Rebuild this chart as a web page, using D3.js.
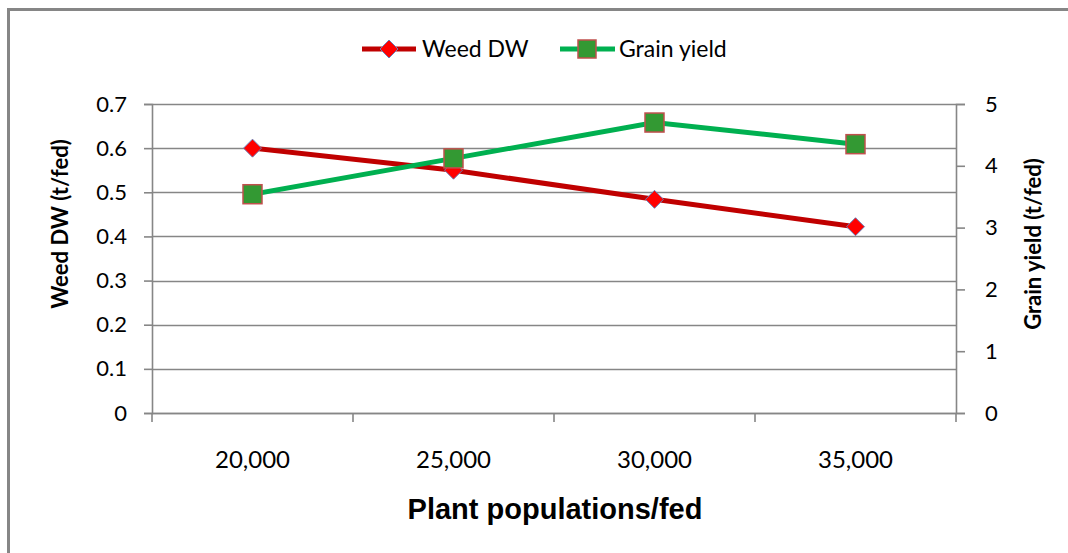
<!DOCTYPE html>
<html>
<head>
<meta charset="utf-8">
<script src="https://cdn.jsdelivr.net/npm/d3@7"></script>
<style>
  html, body { margin: 0; padding: 0; background: #fff; }
  svg { display: block; }
</style>
</head>
<body>
<svg id="chart" width="1068" height="553"></svg>
<script>
// ---- data ----
const categories = ["20,000", "25,000", "30,000", "35,000"];
const weedDW = [0.60, 0.55, 0.484, 0.422];
const grainYield = [3.54, 4.12, 4.70, 4.35];
const leftTicks = [0, 0.1, 0.2, 0.3, 0.4, 0.5, 0.6, 0.7];
const rightTicks = [0, 1, 2, 3, 4, 5];
const seriesNames = ["Weed DW", "Grain yield"];
const xTitle = "Plant populations/fed";
const yLeftTitle = "Weed DW (t/fed)";
const yRightTitle = "Grain yield (t/fed)";

// ---- layout ----
const svg = d3.select("#chart");
const plot = { left: 152, right: 956, top: 104, bottom: 413 };
const axisColor = "#868686";
const tickFont = "Lato, 'Open Sans', sans-serif";

// chart area border (extends past right/bottom edge)
svg.append("path")
  .attr("d", "M8.5,1000 L8.5,9.5 L1200,9.5")
  .attr("fill", "none").attr("stroke", axisColor).attr("stroke-width", 3);

const x = d3.scaleBand().domain(categories).range([plot.left, plot.right]).padding(0);
const yL = d3.scaleLinear().domain([0, 0.7]).range([plot.bottom, plot.top]);
const yR = d3.scaleLinear().domain([0, 5]).range([plot.bottom, plot.top]);

// gridlines
svg.append("g").selectAll("line").data(leftTicks).join("line")
  .attr("x1", plot.left).attr("x2", plot.right)
  .attr("y1", d => Math.round(yL(d)) + 0.5).attr("y2", d => Math.round(yL(d)) + 0.5)
  .attr("stroke", axisColor).attr("stroke-width", 1.6);

// left axis
const gL = svg.append("g").attr("transform", `translate(${plot.left},0)`)
  .call(d3.axisLeft(yL).tickValues(leftTicks).tickSize(8).tickPadding(17)
    .tickFormat(d => d === 0 ? "0" : d3.format(".1f")(d)));
// right axis
const gR = svg.append("g").attr("transform", `translate(${plot.right},0)`)
  .call(d3.axisRight(yR).tickValues(rightTicks).tickSize(9).tickPadding(20)
    .tickFormat(d3.format("d")));
// bottom axis
const gB = svg.append("g").attr("transform", `translate(0,${plot.bottom})`)
  .call(d3.axisBottom(x).tickSize(0).tickPadding(38));

[gL, gR, gB].forEach(g => {
  g.select(".domain").attr("stroke", axisColor).attr("stroke-width", 1.6);
  g.selectAll(".tick line").attr("stroke", axisColor).attr("stroke-width", 1.6);
  g.selectAll(".tick text").attr("fill", "#000").style("font-family", tickFont).style("font-size", "22px");
});
gB.selectAll(".tick text").style("font-size", "24px");
gB.select(".domain").attr("d", `M${plot.left},0.5H${plot.right}`);

// category boundary tick marks on x axis
const bounds = categories.map(c => x(c)).concat([x(categories[categories.length - 1]) + x.bandwidth()]);
svg.append("g").selectAll("line").data(bounds).join("line")
  .attr("x1", d => d).attr("x2", d => d)
  .attr("y1", plot.bottom).attr("y2", plot.bottom + 9)
  .attr("stroke", axisColor).attr("stroke-width", 1.6);

// axis titles
svg.append("text").text(xTitle)
  .attr("x", (plot.left + plot.right) / 2 + 1).attr("y", 519)
  .attr("text-anchor", "middle")
  .style("font-family", "'Liberation Sans', Arial, sans-serif")
  .style("font-weight", "bold").style("font-size", "29px");

svg.append("text").text(yLeftTitle)
  .attr("transform", "translate(68,224) rotate(-90)")
  .attr("text-anchor", "middle")
  .style("font-family", tickFont).style("font-weight", "bold").style("font-size", "22px");

svg.append("text").text(yRightTitle)
  .attr("transform", "translate(1041,244) rotate(-90)")
  .attr("text-anchor", "middle")
  .style("font-family", tickFont).style("font-weight", "bold").style("font-size", "22px");

// series
const cx = c => x(c) + x.bandwidth() / 2;
const lineL = d3.line().x((d, i) => cx(categories[i])).y(d => yL(d));
const lineR = d3.line().x((d, i) => cx(categories[i])).y(d => yR(d));

const red = "#C00000", redFill = "#FF0000", diamondStroke = "#6A80B8";
const green = "#00B050", greenFill = "#339933", squareStroke = "#C0504D";

const dr = 9; // diamond half-diagonal
const diamondPath = `M0,${-dr}L${dr},0L0,${dr}L${-dr},0Z`;

svg.append("path").datum(weedDW).attr("d", lineL)
  .attr("fill", "none").attr("stroke", red).attr("stroke-width", 5);
svg.append("g").selectAll("path").data(weedDW).join("path")
  .attr("d", diamondPath)
  .attr("transform", (d, i) => `translate(${cx(categories[i])},${yL(d)})`)
  .attr("fill", redFill).attr("stroke", diamondStroke).attr("stroke-width", 1);

svg.append("path").datum(grainYield).attr("d", lineR)
  .attr("fill", "none").attr("stroke", green).attr("stroke-width", 5);
svg.append("g").selectAll("rect").data(grainYield).join("rect")
  .attr("x", (d, i) => cx(categories[i]) - 9.5).attr("y", d => yR(d) - 9.5)
  .attr("width", 19).attr("height", 19)
  .attr("fill", greenFill).attr("stroke", squareStroke).attr("stroke-width", 1.5);

// legend
const leg = svg.append("g");
// Weed DW
leg.append("line").attr("x1", 362).attr("x2", 416).attr("y1", 49).attr("y2", 49)
  .attr("stroke", red).attr("stroke-width", 5);
leg.append("path").attr("d", diamondPath).attr("transform", "translate(389,49)")
  .attr("fill", redFill).attr("stroke", diamondStroke).attr("stroke-width", 1);
leg.append("text").text(seriesNames[0]).attr("x", 422).attr("y", 57)
  .style("font-family", tickFont).style("font-size", "23px");
// Grain yield
leg.append("line").attr("x1", 560).attr("x2", 615).attr("y1", 49).attr("y2", 49)
  .attr("stroke", green).attr("stroke-width", 5);
leg.append("rect").attr("x", 578).attr("y", 40).attr("width", 18).attr("height", 18)
  .attr("fill", greenFill).attr("stroke", squareStroke).attr("stroke-width", 1.5);
leg.append("text").text(seriesNames[1]).attr("x", 619).attr("y", 57)
  .style("font-family", tickFont).style("font-size", "23px");
</script>
</body>
</html>
